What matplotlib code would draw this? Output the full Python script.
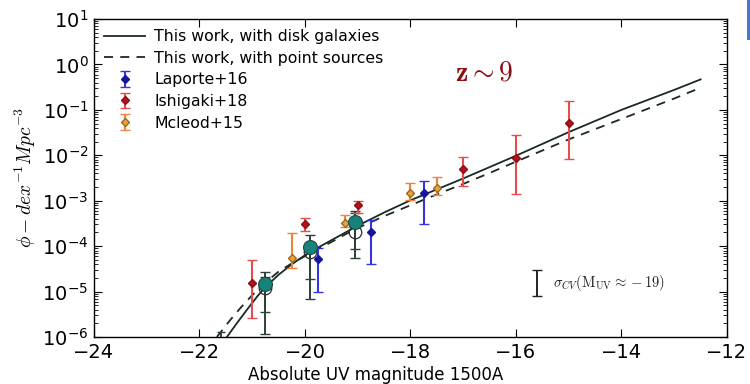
import matplotlib
matplotlib.use("Agg")
import matplotlib.pyplot as plt
import numpy as np
from matplotlib.patches import Rectangle
from matplotlib.ticker import LogLocator, NullFormatter

plt.rcParams["mathtext.fontset"] = "cm"

# model curves (M_UV, log10 phi)
disk_M = [-21.48, -21.3, -21.1, -20.9, -20.75, -20.5, -20.25, -20.0, -19.75, -19.5,
          -19.25, -19.0, -18.5, -18.0, -17.5, -17.0, -16.5, -16.0, -15.0, -14.0, -13.0, -12.5]
disk_logphi = [-6.0, -5.71, -5.4, -5.1, -4.9, -4.63, -4.4, -4.2, -4.03, -3.87,
               -3.71, -3.55, -3.26, -2.99, -2.75, -2.51, -2.26, -2.01, -1.49, -1.0, -0.56, -0.33]
point_M = [-21.67, -21.42, -21.2, -21.0, -20.75, -20.5, -20.25, -20.0, -19.75, -19.5,
           -19.25, -19.0, -18.5, -18.0, -17.5, -17.0, -16.5, -16.0, -15.0, -14.0, -13.0, -12.6]
point_logphi = [-6.0, -5.63, -5.33, -5.08, -4.8, -4.56, -4.38, -4.22, -4.06, -3.91,
                -3.75, -3.6, -3.34, -3.1, -2.86, -2.63, -2.39, -2.14, -1.65, -1.2, -0.75, -0.56]

# observations: M, log phi, log lower, log upper
lap_M = [-19.75, -18.75, -17.75]
lap_log = [-4.29, -3.68, -2.82]
lap_lo = [-5.0, -4.40, -3.52]
lap_hi = [-4.05, -3.43, -2.56]

ish_M = [-21.0, -20.0, -19.0, -17.0, -16.0, -15.0]
ish_log = [-4.82, -3.52, -3.10, -2.30, -2.05, -1.30]
ish_lo = [-5.59, -3.67, -3.28, -2.67, -2.85, -2.09]
ish_hi = [-4.31, -3.39, -3.00, -2.03, -1.56, -0.80]

mcl_M = [-20.25, -19.25, -18.0, -17.5]
mcl_log = [-4.27, -3.49, -2.83, -2.72]
mcl_lo = [-4.49, -3.57, -2.99, -2.88]
mcl_hi = [-3.72, -3.32, -2.60, -2.47]

# this work binned points (filled) and point-source version (open)
sim_M = [-20.75, -19.9, -19.05]
sim_log = [-4.84, -4.01, -3.46]
sim_outer_lo = [-5.94, -5.17, -4.26]
sim_outer_hi = [-4.57, -3.76, -3.22]
sim_inner_lo = [-5.45, -4.73, -4.07]
sim_inner_hi = [-4.68, -3.98, -3.27]
open_log = [-4.93, -4.13, -3.68]

lim_M = [-21.6]
lim_lo = [-6.3]
lim_hi = [-5.89]

cv_M = [-15.6]
cv_lo = [-5.10]
cv_hi = [-4.53]


def err(vals, lo, hi):
    v = 10 ** np.array(vals)
    return v, [v - 10 ** np.array(lo), 10 ** np.array(hi) - v]


fig = plt.figure(figsize=(7.5, 3.84), dpi=100)
ax = fig.add_axes([0.1253, 0.1224, 0.844, 0.8281])

ax.plot(disk_M, 10 ** np.array(disk_logphi), color="#1a2a22", lw=1.3,
        label="This work, with disk galaxies")
ax.plot(point_M, 10 ** np.array(point_logphi), color="#1a2a22", lw=1.3,
        ls=(0, (5, 4)), label="This work, with point sources")

y, e = err(lap_log, lap_lo, lap_hi)
ax.errorbar(lap_M, y, yerr=e, fmt="D", ms=4.5, mfc="#1515a0", mec="#1515a0",
            ecolor="#3535e0", elinewidth=1.5, capsize=3.5, label="Laporte+16", zorder=4)
y, e = err(ish_log, ish_lo, ish_hi)
ax.errorbar(ish_M, y, yerr=e, fmt="D", ms=4.5, mfc="#b5121b", mec="#8a0f15",
            ecolor="#e24e4e", elinewidth=1.5, capsize=3.5, label="Ishigaki+18", zorder=4)
y, e = err(mcl_log, mcl_lo, mcl_hi)
ax.errorbar(mcl_M, y, yerr=e, fmt="D", ms=4.5, mfc="#e6a53a", mec="#9a6a20",
            ecolor="#f0823c", elinewidth=1.5, capsize=3.5, label="Mcleod+15", zorder=4)

y, e = err(sim_log, sim_outer_lo, sim_outer_hi)
ax.errorbar(sim_M, y, yerr=e, fmt="none", ecolor="#2c4236", elinewidth=1.4,
            capsize=3.5, zorder=3)
y, e = err(sim_log, sim_inner_lo, sim_inner_hi)
ax.errorbar(sim_M, y, yerr=e, fmt="none", ecolor="#2c4236", elinewidth=1.4,
            capsize=3.5, zorder=3)
ax.plot(sim_M, 10 ** np.array(open_log), "o", ms=9, mfc="none", mec="#2a2a2a",
        mew=0.9, zorder=3)
ax.plot(sim_M, 10 ** np.array(sim_log), "o", ms=10, mfc="#16837a", mec="#1d4a44",
        mew=0.8, zorder=5)

y, e = err(lim_hi, lim_lo, lim_hi)
ax.errorbar(lim_M, y, yerr=[e[0], [0]], fmt="none", ecolor="#2c3a33", elinewidth=1.3,
            capsize=3, zorder=3)

y, e = err(cv_lo, cv_lo, cv_hi)
ax.errorbar(cv_M, y, yerr=[[0], e[1]], fmt="none", ecolor="#222222", elinewidth=1.4,
            capsize=3.5)
ax.text(-15.3, 10 ** ((cv_lo[0] + cv_hi[0]) / 2), r"$\sigma_{CV}(\mathrm{M_{UV}}\approx -19)$",
        fontsize=10.5, va="center", ha="left", color="#222222")

ax.text(-16.6, 10 ** -0.17, r"$\mathbf{z\sim 9}$", fontsize=20, color="#8b0d12",
        ha="center", va="center")

ax.set_yscale("log")
ax.set_xlim(-24, -12)
ax.set_ylim(1e-6, 10)
ax.set_xticks(np.arange(-24, -11, 2))
ax.yaxis.set_minor_locator(LogLocator(base=10, subs=np.arange(2, 10), numticks=20))
ax.yaxis.set_minor_formatter(NullFormatter())
ax.tick_params(direction="in", top=True, right=True, labelsize=14, length=6, width=0.8)
ax.tick_params(which="minor", direction="in", top=True, right=True, length=3)
ax.tick_params(axis="x", pad=4)
ax.tick_params(axis="y", pad=4)
ax.set_xlabel("Absolute UV magnitude 1500A", fontsize=12)
ax.xaxis.set_label_coords(0.445, -0.09, transform=ax.transAxes)
ax.xaxis.label.set_va("top")
ax.set_ylabel(r"$\phi - dex^{-1}Mpc^{-3}$", fontsize=14, labelpad=3)
for s in ax.spines.values():
    s.set_linewidth(1.0)

ax.legend(loc="upper left", frameon=False, fontsize=11.3, handlelength=2.6,
          labelspacing=0.42, borderaxespad=0.35, borderpad=0.3, handletextpad=0.6,
          numpoints=1)

fig.add_artist(Rectangle((0.9955, 0.895), 0.0045, 0.105, transform=fig.transFigure,
                         fc="#4a78c8", ec="none"))

fig.savefig("out.png", dpi=100)
